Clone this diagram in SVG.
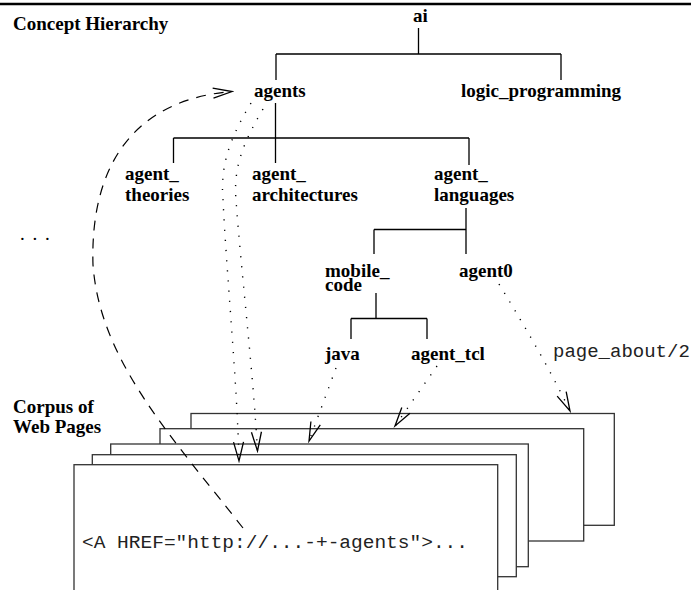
<svg xmlns="http://www.w3.org/2000/svg" width="691" height="590" viewBox="0 0 691 590">
  <style>
    .lbl { font-family: "Liberation Serif", "Times New Roman", serif; font-weight: bold; font-size: 19px; fill: #000; }
    .code { font-family: "Liberation Mono", "Courier New", monospace; font-size: 19px; fill: #222; }
    .page { fill: #fff; stroke: #333; stroke-width: 1.3; }
    .tree { fill: none; stroke: #000; stroke-width: 1.3; }
    .dot { fill: none; stroke: #000; stroke-width: 1.4; stroke-dasharray: 1.2 9; stroke-linecap: butt; }
    .dash { fill: none; stroke: #000; stroke-width: 1.2; stroke-dasharray: 10 8; }
  </style>
  <defs>
    <marker id="openArrow" markerUnits="userSpaceOnUse" markerWidth="24" markerHeight="14" viewBox="-21 -7 23 14" refX="0" refY="0" orient="auto">
      <path d="M-19,-5 L0,0 L-19,5" fill="none" stroke="#000" stroke-width="1.3" stroke-dasharray="none"/>
    </marker>
  </defs>

  <rect x="0" y="0" width="691" height="590" fill="#fff"/>
  <!-- rule across the top -->
  <line x1="0" y1="4" x2="691" y2="4" stroke="#000" stroke-width="2.4"/>

  <!-- section titles -->
  <g id="title-hierarchy"><text class="lbl" x="13" y="30">Concept Hierarchy</text></g>
  <g id="title-corpus">
    <text class="lbl" x="13" y="413">Corpus of<tspan x="13" y="433">Web Pages</tspan></text>
  </g>
  <g id="more-concepts"><text class="lbl" x="20" y="239.5" style="font-weight:normal" letter-spacing="7.7">...</text></g>

  <!-- concept nodes -->
  <g id="ai"><text class="lbl" x="413" y="22">ai</text></g>
  <g id="agents"><text class="lbl" x="254" y="96.5">agents</text></g>
  <g id="logic_programming"><text class="lbl" x="461" y="96.5">logic_programming</text></g>
  <g id="agent_theories">
    <text class="lbl" x="125" y="179.5">agent_<tspan x="125" y="200.5">theories</tspan></text>
  </g>
  <g id="agent_architectures">
    <text class="lbl" x="252" y="179.5">agent_<tspan x="252" y="200.5">architectures</tspan></text>
  </g>
  <g id="agent_languages">
    <text class="lbl" x="434" y="179.5">agent_<tspan x="434" y="200.5">languages</tspan></text>
  </g>
  <g id="mobile_code">
    <text class="lbl" x="325" y="276.5">mobile_<tspan x="325" y="290.5">code</tspan></text>
  </g>
  <g id="agent0"><text class="lbl" x="459" y="276.5">agent0</text></g>
  <g id="java"><text class="lbl" x="325" y="360">java</text></g>
  <g id="agent_tcl"><text class="lbl" x="411" y="360">agent_tcl</text></g>
  <g id="page_about"><text class="code" x="553" y="357">page_about/2</text></g>

  <!-- stack of web pages, back to front -->
  <g id="page1"><rect class="page" x="191" y="413.5" width="423.3" height="111.8"/></g>
  <g id="page2"><rect class="page" x="160" y="428.7" width="423.7" height="112.3"/></g>
  <g id="page3"><rect class="page" x="110.7" y="444" width="417.6" height="122.7"/></g>
  <g id="page4"><rect class="page" x="92.3" y="454.7" width="424" height="122"/></g>
  <g id="page5">
    <rect class="page" x="74" y="464.7" width="423.7" height="140"/>
    <text class="code" x="82" y="548" textLength="386" lengthAdjust="spacingAndGlyphs">&lt;A HREF="http://...-+-agents"&gt;...</text>
  </g>

  <g id="connectors">
    <!-- hierarchy links -->
    <path class="tree" d="M418.5,28 V54 M276,54 H561 M276,54 V80 M561,54 V80"/>
    <path class="tree" d="M275.5,103 V163 M173.5,138 H469 M173.5,138 V163 M469,138 V165"/>
    <path class="tree" d="M466,208 V254 M374,229.5 H466 M374,229.5 V254"/>
    <path class="tree" d="M376,293 V318.5 M351,318.5 H427 M351,318.5 V339 M427,318.5 V339"/>

    <!-- page_about/2 links from concepts to pages -->
    <path class="dot" d="M251,103 C230,138 220,165 223,200 C227,280 237,380 239,461" marker-end="url(#openArrow)"/>
    <path class="dot" d="M263,109 C245,140 233,165 236,200 C241,270 253,370 257.5,451" marker-end="url(#openArrow)"/>
    <path class="dot" d="M336,368 L309,441" marker-end="url(#openArrow)"/>
    <path class="dot" d="M437,366 L395,426" marker-end="url(#openArrow)"/>
    <path class="dot" d="M499,284 C530,335 550,370 570,411" marker-end="url(#openArrow)"/>

    <!-- hyperlink anchor back to the agents concept -->
    <path class="dash" d="M243,528 C170,435 100,360 93,265 C90,170 130,100 232,91.5" marker-end="url(#openArrow)"/>
  </g>
</svg>
